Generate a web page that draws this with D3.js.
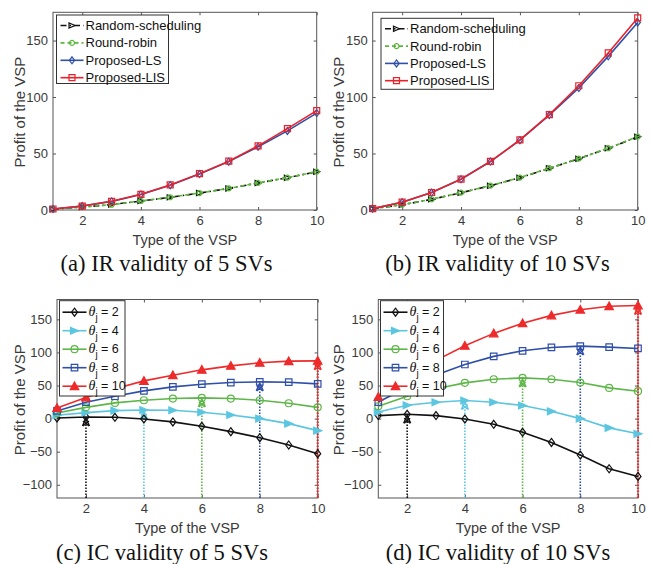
<!DOCTYPE html>
<html><head><meta charset="utf-8">
<script src="https://cdn.jsdelivr.net/npm/d3@7"></script>
<style>
body{margin:0;background:#fff;}
svg{display:block;}
</style></head>
<body>
<svg id="chart" width="651" height="564"></svg>
<script>
// ---------- data ----------
const vspTypes = [1,2,3,4,5,6,7,8,9,10];
const xTicks = [2,4,6,8,10];
const yTicksIR = [0,50,100,150];
const yTicksIC = [-100,-50,0,50,100,150];

const irLegend = ["Random-scheduling","Round-robin","Proposed-LS","Proposed-LIS"];
// (a) IR validity of 5 SVs
const irFiveRandom = [0.7, 2.6, 4.8, 7.9, 11.2, 15.0, 19.1, 23.9, 28.6, 33.8];
const irFiveRoundRobin = [0.7, 2.7, 4.7, 8.0, 11.3, 15.0, 19.2, 24.0, 28.7, 34.0];
const irFiveLS = [0.9, 3.5, 7.6, 13.8, 22.0, 31.8, 42.8, 56.0, 70.0, 85.8];
const irFiveLIS = [0.9, 3.5, 7.7, 13.9, 22.2, 32.2, 43.2, 56.8, 72.0, 88.0];
// (b) IR validity of 10 SVs
const irTenRandom = [1.2, 4.6, 9.4, 15.3, 21.5, 28.6, 36.9, 45.4, 54.6, 64.8];
const irTenRoundRobin = [1.2, 4.7, 9.5, 15.4, 21.6, 28.7, 37.0, 45.5, 54.7, 65.0];
const irTenLS = [1.2, 6.8, 15.4, 27.2, 42.9, 61.8, 84.0, 108.0, 136.0, 166.0];
const irTenLIS = [1.2, 6.9, 15.5, 27.3, 43.0, 62.0, 84.5, 110.0, 139.0, 170.0];

const thetaValues = [2,4,6,8,10];
// (c) IC validity of 5 SVs
const icFiveTheta2 = [1, 2.5, 2, -0.5, -5, -11.6, -19.7, -28.8, -39.9, -53];
const icFiveTheta4 = [5, 9, 12.1, 13, 12.6, 9.5, 5.5, 0, -7.6, -18.2];
const icFiveTheta6 = [8.5, 17, 23.7, 27.7, 30.3, 31.3, 30.3, 27.7, 23.2, 17];
const icFiveTheta8 = [11.6, 24.7, 33.8, 41.9, 48, 52, 54.5, 55.5, 55, 52.5];
const icFiveTheta10 = [16, 32, 45, 57, 65.6, 73.7, 79.7, 84.3, 86.8, 87.3];
// (d) IC validity of 10 SVs
const icTenTheta2 = [4.5, 6.5, 4.5, -0.5, -8.6, -20.7, -36, -55, -75.8, -87.4];
const icTenTheta4 = [10, 20.2, 24.7, 27.3, 24.7, 19.7, 11, 0, -14, -23];
const icTenTheta6 = [18.7, 33.8, 45, 54, 59.5, 61.5, 59.5, 54.5, 46.4, 41.4];
const icTenTheta8 = [25, 47, 66, 81.8, 94, 102.5, 107.5, 109.6, 108, 106];
const icTenTheta10 = [32.8, 62, 88, 110, 128.8, 144, 156, 164.6, 169.7, 171];

const captions = ["(a) IR validity of 5 SVs","(b) IR validity of 10 SVs","(c) IC validity of 5 SVs","(d) IC validity of 10 SVs"];
const xLabel = "Type of the VSP";
const yLabel = "Profit of the VSP";

// ---------- styles ----------
const AX = "#555";
const TXT = "#3a3a3a";
const SANS = "'Liberation Sans', Arial, sans-serif";
const SERIF = "'Liberation Serif', 'Times New Roman', serif";

const irStyles = [
  {color:"#111", dash:"6,3,1.5,3", marker:"triRight", fill:"none", size:6},
  {color:"#5cb83b", dash:"4,3", marker:"circle", fill:"none", size:5},
  {color:"#2f4fa8", dash:null, marker:"diamond", fill:"none", size:7},
  {color:"#e8222b", dash:null, marker:"square", fill:"none", size:6}
];
const icStyles = [
  {color:"#111", marker:"diamond", fill:"none", size:8},
  {color:"#5cc6e0", marker:"triRight", fill:"#5cc6e0", size:8},
  {color:"#5db648", marker:"circle", fill:"none", size:7},
  {color:"#2f4fa8", marker:"square", fill:"none", size:6.5},
  {color:"#ee2a2a", marker:"triUp", fill:"#ee2a2a", size:8.5}
];

const svg = d3.select("#chart");

function markerPath(type, s){
  const h = s/2;
  switch(type){
    case "circle": return d3.symbol(d3.symbolCircle, Math.PI*h*h)();
    case "square": return `M${-h},${-h}L${h},${-h}L${h},${h}L${-h},${h}Z`;
    case "diamond": return `M0,${-h}L${h*0.75},0L0,${h}L${-h*0.75},0Z`;
    case "triRight": return `M${h},0L${-h},${-h*0.85}L${-h},${h*0.85}Z`;
    case "triUp": return `M0,${-h}L${h},${h*0.8}L${-h},${h*0.8}Z`;
  }
}

function drawMarker(g, x, y, st){
  g.append("path").attr("d", markerPath(st.marker, st.size))
    .attr("transform", `translate(${x},${y})`)
    .attr("fill", st.fill).attr("stroke", st.color).attr("stroke-width", 1.2);
}

function panel(opt){
  const g = svg.append("g");
  const x = d3.scaleLinear().domain([1,10]).range([opt.left, opt.right]);
  const y = d3.scaleLinear().domain(opt.yDomain).range([opt.bottom, opt.top]);
  const ax = g.append("g").attr("transform", `translate(0,${opt.bottom})`)
    .call(d3.axisBottom(x).tickValues(xTicks).tickSize(-3).tickPadding(6));
  const ay = g.append("g").attr("transform", `translate(${opt.left},0)`)
    .call(d3.axisLeft(y).tickValues(opt.yTicks).tickSize(-3).tickPadding(5));
  const axT = g.append("g").attr("transform", `translate(0,${opt.top})`)
    .call(d3.axisTop(x).tickValues(xTicks).tickSize(-3).tickFormat(""));
  const ayR = g.append("g").attr("transform", `translate(${opt.right},0)`)
    .call(d3.axisRight(y).tickValues(opt.yTicks).tickSize(-3).tickFormat(""));
  [ax, ay, axT, ayR].forEach(a=>{
    a.select(".domain").remove();
    a.selectAll("line").attr("stroke", AX);
    a.selectAll("text").attr("fill", TXT).style("font-family", SANS).style("font-size","13px");
  });
  g.append("rect").attr("x",opt.left).attr("y",opt.top)
    .attr("width",opt.right-opt.left).attr("height",opt.bottom-opt.top)
    .attr("fill","none").attr("stroke",AX).attr("stroke-width",1);

  g.append("text").attr("x",(opt.left+opt.right)/2).attr("y",opt.xLabelY)
    .attr("text-anchor","middle").attr("fill",TXT)
    .style("font-family",SANS).style("font-size","14.5px").text(xLabel);
  g.append("text").attr("transform",`translate(${opt.yLabelX},${(opt.top+opt.bottom)/2 + 1}) rotate(-90)`)
    .attr("text-anchor","middle").attr("fill",TXT)
    .style("font-family",SANS).style("font-size","15px").text(yLabel);
  g.append("text").attr("x",opt.captionX).attr("y",opt.captionY)
    .attr("text-anchor","middle").attr("fill","#111")
    .style("font-family",SERIF).style("font-size","22.5px").text(opt.caption);
  return {g, x, y};
}

function drawSeries(p, values, st, lw){
  const line = d3.line().x((d,i)=>p.x(vspTypes[i])).y(d=>p.y(d));
  p.g.append("path").datum(values).attr("d", line)
    .attr("fill","none").attr("stroke",st.color).attr("stroke-width",lw)
    .attr("stroke-dasharray", st.dash || null);
  values.forEach((v,i)=>drawMarker(p.g, p.x(vspTypes[i]), p.y(v), st));
}

function irPanel(opt, series){
  const p = panel(opt);
  series.forEach((vals,k)=>drawSeries(p, vals, irStyles[k], 1.6));
  const L = opt.legend;
  const lg = p.g.append("g");
  lg.append("rect").attr("x",L.x).attr("y",L.y).attr("width",L.w).attr("height",L.h)
    .attr("fill","#fff").attr("stroke","#333").attr("stroke-width",1);
  irLegend.forEach((name,k)=>{
    const yy = L.y + L.first + k*L.step;
    const st = irStyles[k];
    lg.append("line").attr("x1",L.x+4).attr("x2",L.x+27).attr("y1",yy).attr("y2",yy)
      .attr("stroke",st.color).attr("stroke-width",1.6).attr("stroke-dasharray",st.dash||null);
    drawMarker(lg, L.x+15.5, yy, st);
    lg.append("text").attr("x",L.x+29).attr("y",yy+4.5).attr("fill","#111")
      .style("font-family",SANS).style("font-size","13px").text(name);
  });
}

function icPanel(opt, series){
  const p = panel(opt);
  thetaValues.forEach((t,k)=>{
    const st = icStyles[k];
    const xv = p.x(t), yv = p.y(series[k][t-1]);
    p.g.append("line").attr("x1",xv).attr("x2",xv).attr("y1",p.y(opt.yDomain[0])).attr("y2",yv+2)
      .attr("stroke",st.color).attr("stroke-width", t===10?2.2:1.6).attr("stroke-dasharray","1.5,1.5");
    p.g.append("path").attr("d",`M${xv-3.5},${yv+9}L${xv},${yv+1}L${xv+3.5},${yv+9}M${xv-3},${yv+4}L${xv+3},${yv+9}M${xv+3},${yv+4}L${xv-3},${yv+9}`)
      .attr("fill","none").attr("stroke",st.color).attr("stroke-width",1.4);
  });
  series.forEach((vals,k)=>drawSeries(p, vals, icStyles[k], 1.6));
  const L = opt.legend;
  const lg = p.g.append("g");
  lg.append("rect").attr("x",L.x).attr("y",L.y).attr("width",L.w).attr("height",L.h)
    .attr("fill","#fff").attr("stroke","#333").attr("stroke-width",1);
  thetaValues.forEach((t,k)=>{
    const yy = L.y + L.first + k*L.step;
    const st = icStyles[k];
    lg.append("line").attr("x1",L.x+3).attr("x2",L.x+27).attr("y1",yy).attr("y2",yy)
      .attr("stroke",st.color).attr("stroke-width",1.6);
    drawMarker(lg, L.x+15, yy, st);
    const tx = lg.append("text").attr("x",L.x+29).attr("y",yy+4).attr("fill","#111")
      .style("font-family",SANS).style("font-size","12.5px");
    tx.append("tspan").style("font-family",SERIF).style("font-style","italic").style("font-size","14px").text("θ");
    tx.append("tspan").attr("dy",5).style("font-size","10px").text("j");
    tx.append("tspan").attr("dy",-5).text(" = " + t);
  });
}

irPanel({left:53, right:316.7, top:12.3, bottom:210, yDomain:[0,175], yTicks:yTicksIR,
  xLabelY:245, yLabelX:25, caption:captions[0], captionX:166.5, captionY:271,
  legend:{x:56.5, y:15, w:112, h:68.5, first:10.5, step:17.4}},
  [irFiveRandom, irFiveRoundRobin, irFiveLS, irFiveLIS]);

irPanel({left:372.7, right:637.7, top:12.3, bottom:210, yDomain:[0,175], yTicks:yTicksIR,
  xLabelY:245, yLabelX:344, caption:captions[1], captionX:497.5, captionY:271,
  legend:{x:381, y:18.3, w:112.5, h:71, first:10.5, step:17.3}},
  [irTenRandom, irTenRoundRobin, irTenLS, irTenLIS]);

icPanel({left:57, right:317.7, top:299.5, bottom:498, yDomain:[-120,180], yTicks:yTicksIC,
  xLabelY:533, yLabelX:25, caption:captions[2], captionX:162, captionY:560,
  legend:{x:59.5, y:300.7, w:65.5, h:95.3, first:11.5, step:18.5}},
  [icFiveTheta2, icFiveTheta4, icFiveTheta6, icFiveTheta8, icFiveTheta10]);

icPanel({left:378.3, right:638, top:299.5, bottom:498, yDomain:[-120,180], yTicks:yTicksIC,
  xLabelY:533, yLabelX:344, caption:captions[3], captionX:498, captionY:560,
  legend:{x:380.5, y:300.7, w:63, h:95.3, first:11.5, step:18.5}},
  [icTenTheta2, icTenTheta4, icTenTheta6, icTenTheta8, icTenTheta10]);
</script>
</body></html>
